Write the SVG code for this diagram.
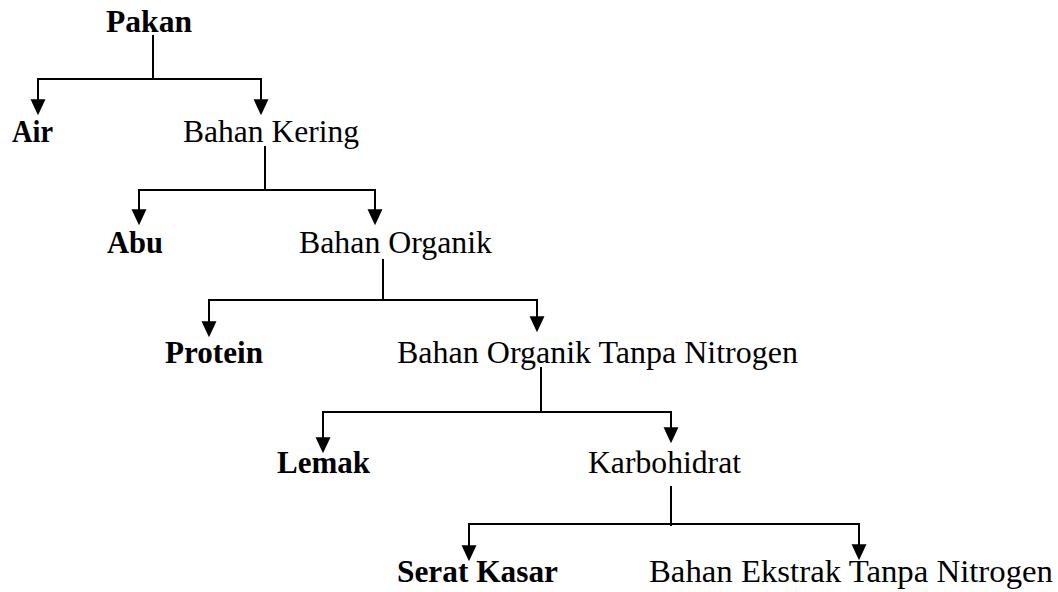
<svg xmlns="http://www.w3.org/2000/svg" width="1058" height="592" viewBox="0 0 1058 592">
<defs>
<style>
text{font-family:'Liberation Serif','Times New Roman',Times,serif;font-size:31.5px;fill:#000}
.b{font-weight:bold}
.c{fill:none;stroke:#000;stroke-width:2}
</style>
<marker id="ah" markerUnits="userSpaceOnUse" markerWidth="16" markerHeight="16" refX="11" refY="7" orient="auto" viewBox="0 0 15 14">
<path d="M0,0 L15,7 L0,14 z" fill="#000"/>
</marker>
</defs>
<rect width="1058" height="592" fill="#fff"/>
<g id="connectors">
<path class="c" d="M153,35 V79"/>
<path class="c" d="M153,79 H38 V111" marker-end="url(#ah)"/>
<path class="c" d="M153,79 H261 V111" marker-end="url(#ah)"/>
<path class="c" d="M265,146 V190"/>
<path class="c" d="M265,190 H139 V221" marker-end="url(#ah)"/>
<path class="c" d="M265,190 H375 V221" marker-end="url(#ah)"/>
<path class="c" d="M383,259 V300"/>
<path class="c" d="M383,300 H209 V333" marker-end="url(#ah)"/>
<path class="c" d="M383,300 H537 V328" marker-end="url(#ah)"/>
<path class="c" d="M541,367 V412"/>
<path class="c" d="M541,412 H323 V449" marker-end="url(#ah)"/>
<path class="c" d="M541,412 H671 V439" marker-end="url(#ah)"/>
<path class="c" d="M671,486 V526"/>
<path class="c" d="M671,524 H469 V557" marker-end="url(#ah)"/>
<path class="c" d="M671,524 H859 V556" marker-end="url(#ah)"/>
</g>
<g id="pakan"><text class="b" x="106" y="32" textLength="86" lengthAdjust="spacingAndGlyphs">Pakan</text></g>
<g id="air"><text class="b" x="12" y="142" textLength="41" lengthAdjust="spacingAndGlyphs">Air</text></g>
<g id="bahan-kering"><text x="183" y="142" textLength="176" lengthAdjust="spacingAndGlyphs">Bahan Kering</text></g>
<g id="abu"><text class="b" x="107" y="253" textLength="56" lengthAdjust="spacingAndGlyphs">Abu</text></g>
<g id="bahan-organik"><text x="299" y="253" textLength="193" lengthAdjust="spacingAndGlyphs">Bahan Organik</text></g>
<g id="protein"><text class="b" x="165" y="363" textLength="98" lengthAdjust="spacingAndGlyphs">Protein</text></g>
<g id="botn"><text x="397" y="363" textLength="401" lengthAdjust="spacingAndGlyphs">Bahan Organik Tanpa Nitrogen</text></g>
<g id="lemak"><text class="b" x="277" y="473" textLength="93" lengthAdjust="spacingAndGlyphs">Lemak</text></g>
<g id="karbohidrat"><text x="588" y="473" textLength="153" lengthAdjust="spacingAndGlyphs">Karbohidrat</text></g>
<g id="serat-kasar"><text class="b" x="397" y="582" textLength="161" lengthAdjust="spacingAndGlyphs">Serat Kasar</text></g>
<g id="betn"><text x="649" y="582" textLength="404" lengthAdjust="spacingAndGlyphs">Bahan Ekstrak Tanpa Nitrogen</text></g>
</svg>
